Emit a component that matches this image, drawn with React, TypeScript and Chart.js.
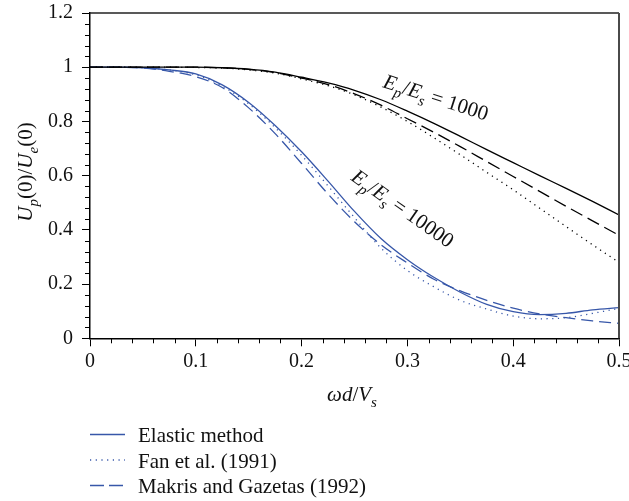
import React, { useEffect, useRef } from 'react';
import { Chart, registerables } from 'chart.js';

Chart.register(...registerables);

// ---- data ----
const xValues = [0, 0.025, 0.05, 0.075, 0.1, 0.125, 0.15, 0.175, 0.2, 0.225, 0.25, 0.275, 0.3, 0.325, 0.35, 0.375, 0.4, 0.425, 0.45, 0.475, 0.5];

const elastic1000 = [1, 1, 1, 1, 1, 0.998, 0.993, 0.982, 0.963, 0.942, 0.915, 0.88, 0.838, 0.793, 0.745, 0.696, 0.648, 0.6, 0.553, 0.505, 0.455];
const makris1000 = [1, 1, 1, 1, 1, 0.998, 0.992, 0.98, 0.96, 0.936, 0.902, 0.86, 0.81, 0.76, 0.707, 0.652, 0.597, 0.542, 0.487, 0.433, 0.38];
const fan1000 = [1, 1, 1, 1, 0.999, 0.997, 0.99, 0.978, 0.957, 0.932, 0.898, 0.853, 0.8, 0.74, 0.677, 0.612, 0.548, 0.48, 0.412, 0.345, 0.28];

const elastic10000 = [1, 1, 0.998, 0.99, 0.975, 0.935, 0.87, 0.785, 0.688, 0.58, 0.468, 0.368, 0.29, 0.225, 0.17, 0.125, 0.098, 0.087, 0.092, 0.105, 0.113];
const makris10000 = [1, 1, 0.997, 0.985, 0.965, 0.925, 0.85, 0.755, 0.645, 0.532, 0.43, 0.345, 0.278, 0.218, 0.175, 0.14, 0.111, 0.09, 0.076, 0.064, 0.055];
const fan10000 = [1, 1, 0.998, 0.99, 0.972, 0.93, 0.865, 0.777, 0.675, 0.562, 0.445, 0.333, 0.25, 0.19, 0.14, 0.108, 0.082, 0.072, 0.076, 0.092, 0.11];

const legendLabels = ['Elastic method', 'Fan et al. (1991)', 'Makris and Gazetas (1992)'];

const xMin = 0, xMax = 0.5, xMajorStep = 0.1, xMinorStep = 0.02;
const yMin = 0, yMax = 1.2, yMajorStep = 0.2, yMinorStep = 0.04;

const BLUE = '#3757a9';
const BLACK = '#000000';
const FONT = '"Liberation Serif", "Times New Roman", serif';

type Seg = { t: string; it?: boolean; sub?: boolean };

function drawRich(ctx: CanvasRenderingContext2D, segs: Seg[], x: number, y: number, angle: number, size: number) {
  ctx.save();
  ctx.translate(x, y);
  ctx.rotate(angle);
  const fontFor = (s: Seg) => `${s.it ? 'italic ' : ''}${s.sub ? Math.round(size * 0.7) : size}px ${FONT}`;
  let total = 0;
  for (const s of segs) {
    ctx.font = fontFor(s);
    total += ctx.measureText(s.t).width;
  }
  let cx = -total / 2;
  ctx.textAlign = 'left';
  ctx.textBaseline = 'alphabetic';
  ctx.fillStyle = '#111';
  for (const s of segs) {
    ctx.font = fontFor(s);
    ctx.fillText(s.t, cx, s.sub ? size * 0.27 : 0);
    cx += ctx.measureText(s.t).width;
  }
  ctx.restore();
}

const fmt = (v: number) => String(Math.round(v * 100) / 100);

const extras = {
  id: 'extras',
  afterDraw(chart: any) {
    const ctx: CanvasRenderingContext2D = chart.ctx;
    const { left, right, top, bottom } = chart.chartArea;
    const xs = chart.scales.x;
    const ys = chart.scales.y;
    ctx.save();
    // minor ticks
    ctx.strokeStyle = '#000';
    ctx.lineWidth = 1;
    const nx = Math.round((xMax - xMin) / xMinorStep);
    const perX = Math.round(xMajorStep / xMinorStep);
    for (let i = 0; i <= nx; i++) {
      if (i % perX === 0) continue;
      const px = Math.round(xs.getPixelForValue(xMin + i * xMinorStep)) + 0.5;
      ctx.beginPath();
      ctx.moveTo(px, bottom);
      ctx.lineTo(px, bottom + 5);
      ctx.stroke();
    }
    const ny = Math.round((yMax - yMin) / yMinorStep);
    const perY = Math.round(yMajorStep / yMinorStep);
    for (let i = 0; i <= ny; i++) {
      if (i % perY === 0) continue;
      const py = Math.round(ys.getPixelForValue(yMin + i * yMinorStep)) + 0.5;
      ctx.beginPath();
      ctx.moveTo(left - 5, py);
      ctx.lineTo(left, py);
      ctx.stroke();
    }
    // top & right frame
    ctx.strokeStyle = '#222';
    ctx.lineWidth = 1.3;
    ctx.beginPath();
    ctx.moveTo(left, top);
    ctx.lineTo(right, top);
    ctx.stroke();
    ctx.strokeStyle = '#4a4a4a';
    ctx.lineWidth = 2;
    ctx.beginPath();
    ctx.moveTo(right, top);
    ctx.lineTo(right, bottom);
    ctx.stroke();

    // axis titles
    drawRich(ctx, [{ t: 'ωd', it: true }, { t: '/' }, { t: 'V', it: true }, { t: 's', it: true, sub: true }], 352, 401, 0, 21);
    drawRich(ctx, [
      { t: 'U', it: true }, { t: 'p', it: true, sub: true }, { t: '(0)/' },
      { t: 'U', it: true }, { t: 'e', it: true, sub: true }, { t: '(0)' },
    ], 32, 172, -Math.PI / 2, 21);

    // annotations anchored in data coordinates
    const a1x = xs.getPixelForValue(0.325), a1y = ys.getPixelForValue(0.865);
    drawRich(ctx, [
      { t: 'E', it: true }, { t: 'p', it: true, sub: true }, { t: '/' },
      { t: 'E', it: true }, { t: 's', it: true, sub: true }, { t: ' = 1000' },
    ], a1x, a1y, (18 * Math.PI) / 180, 21);
    const a2x = xs.getPixelForValue(0.292), a2y = ys.getPixelForValue(0.459);
    drawRich(ctx, [
      { t: 'E', it: true }, { t: 'p', it: true, sub: true }, { t: '/' },
      { t: 'E', it: true }, { t: 's', it: true, sub: true }, { t: ' = 10000' },
    ], a2x, a2y, (35 * Math.PI) / 180, 21);

    // legend
    const dashes = [[], [1.2, 4.5], [14, 5]];
    const rowY = [434.5, 460, 485.5];
    ctx.font = `21px ${FONT}`;
    ctx.textBaseline = 'alphabetic';
    ctx.textAlign = 'left';
    for (let i = 0; i < legendLabels.length; i++) {
      ctx.strokeStyle = BLUE;
      ctx.lineWidth = 1.4;
      ctx.setLineDash(dashes[i]);
      ctx.beginPath();
      ctx.moveTo(90, rowY[i]);
      ctx.lineTo(125, rowY[i]);
      ctx.stroke();
      ctx.setLineDash([]);
      ctx.fillStyle = '#111';
      ctx.fillText(legendLabels[i], 138, rowY[i] + 7.5);
    }
    ctx.restore();
  },
};

function mk(label: string, data: number[], color: string, dash: number[]) {
  return {
    label,
    data: xValues.map((x, i) => ({ x, y: data[i] })),
    borderColor: color,
    borderWidth: 1.3,
    borderDash: dash,
    pointRadius: 0,
    fill: false,
    cubicInterpolationMode: 'monotone',
  };
}

export default function App() {
  const ref = useRef<HTMLCanvasElement | null>(null);
  useEffect(() => {
    if (!ref.current) return;
    const chart = new Chart(ref.current, {
      type: 'line',
      data: {
        datasets: [
          mk(legendLabels[1] + ' 1000', fan1000, BLACK, [1.2, 4.5]),
          mk(legendLabels[2] + ' 1000', makris1000, BLACK, [13, 6]),
          mk(legendLabels[0] + ' 1000', elastic1000, BLACK, []),
          mk(legendLabels[1] + ' 10000', fan10000, BLUE, [1.2, 4.5]),
          mk(legendLabels[2] + ' 10000', makris10000, BLUE, [12, 6]),
          mk(legendLabels[0] + ' 10000', elastic10000, BLUE, []),
        ] as any,
      },
      options: {
        animation: false,
        responsive: false,
        maintainAspectRatio: false,
        layout: { padding: { left: 0, right: 10, top: 13, bottom: 112.7 } },
        plugins: { legend: { display: false }, tooltip: { enabled: false } },
        scales: {
          x: {
            type: 'linear',
            min: xMin,
            max: xMax,
            ticks: { stepSize: xMajorStep, padding: 3, color: '#111', font: { family: FONT, size: 20 }, maxRotation: 0, callback: (v: number) => fmt(v) },
            grid: { display: true, drawOnChartArea: false, drawTicks: true, tickLength: 8, color: '#000', lineWidth: 1 },
            border: { display: true, color: '#000', width: 1.5 },
            afterFit: (s: any) => { s.height = 50; s.paddingLeft = 0; s.paddingRight = 0; },
          },
          y: {
            type: 'linear',
            min: yMin,
            max: yMax,
            ticks: { stepSize: yMajorStep, padding: 9, color: '#111', font: { family: FONT, size: 20 }, callback: (v: number) => fmt(v) },
            grid: { display: true, drawOnChartArea: false, drawTicks: true, tickLength: 8, color: '#000', lineWidth: 1 },
            border: { display: true, color: '#000', width: 1.5 },
            afterFit: (s: any) => { s.width = 90; s.paddingTop = 0; s.paddingBottom = 0; },
          },
        },
      } as any,
      plugins: [extras],
    });
    return () => chart.destroy();
  }, []);
  return (
    <div style={{ position: 'absolute', left: 0, top: 0, width: 629, height: 501, background: '#fff' }}>
      <canvas ref={ref} width={629} height={501} style={{ width: 629, height: 501, display: 'block' }} />
    </div>
  );
}
